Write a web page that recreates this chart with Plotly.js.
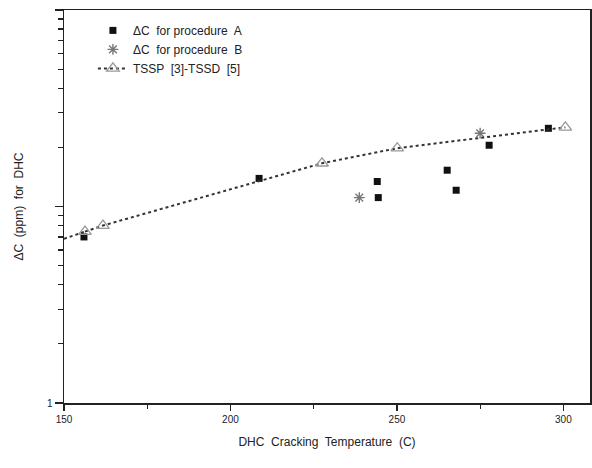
<!DOCTYPE html>
<html>
<head>
<meta charset="utf-8">
<script src="https://cdn.plot.ly/plotly-3.0.1.min.js"></script>
<style>html,body{margin:0;padding:0;background:#fff;}#chart{width:592px;height:468px;}</style>
</head>
<body>
<div id="chart"></div>
<script>
// Procedure A (squares)
const procA_T = [156, 208.6, 244.1, 244.4, 265.1, 267.8, 277.7, 295.5];
const procA_C = [7.0, 13.9, 13.4, 11.1, 15.3, 12.1, 20.5, 25.0];
// Procedure B (asterisks)
const procB_T = [238.7, 275];
const procB_C = [11.1, 23.6];
// TSSP-TSSD curve (triangles)
const tssp_T = [156.3, 161.7, 227.5, 250.1, 300.6];
const tssp_C = [7.45, 8.0, 16.6, 19.8, 25.3];
// extension of the dotted curve to the left axis
const ext_T = [150, 156.3];
const ext_C = [6.85, 7.45];

const yMajorVals = [1, 10, 100];
const yMajorText = ['1', '', ''];
const yMinorVals = [2,3,4,5,6,7,8,9,20,30,40,50,60,70,80,90];
const xMajorVals = [150, 200, 250, 300];
const xMinorVals = [175, 225, 275];

const font = {family: 'Liberation Sans, Arial, sans-serif', color: '#222'};

const traces = [
  {x: ext_T, y: ext_C, mode: 'lines', showlegend: false, hoverinfo: 'skip',
   line: {color: '#333', width: 2, dash: 'dot'}},
  {x: procA_T, y: procA_C, mode: 'markers', name: '\u0394C  for procedure  A',
   marker: {symbol: 'square', size: 7, color: '#111'}},
  {x: procB_T, y: procB_C, mode: 'markers', name: '\u0394C  for procedure  B',
   marker: {symbol: 'asterisk-open', size: 9, color: '#777', line: {color: '#777', width: 1.4}}},
  {x: tssp_T, y: tssp_C, mode: 'lines+markers', name: 'TSSP  [3]-TSSD  [5]',
   line: {color: '#333', width: 2, dash: 'dot'},
   marker: {symbol: 'triangle-up-open', size: 11, color: '#999', line: {color: '#999', width: 1.3}}}
];

const layout = {
  width: 592, height: 468,
  margin: {l: 64, r: 2, t: 10, b: 65},
  paper_bgcolor: '#fff', plot_bgcolor: '#fff',
  font: font,
  showlegend: true,
  legend: {x: 0.055, y: 0.985, xanchor: 'left', yanchor: 'top',
           bgcolor: 'rgba(0,0,0,0)', font: {family: font.family, size: 12, color: '#222'},
           tracegroupgap: 0},
  xaxis: {
    range: [150, 308], showgrid: false, zeroline: false,
    showline: true, linecolor: '#222', linewidth: 1.5, mirror: true,
    ticks: 'outside', ticklen: 6, tickcolor: '#222', tickwidth: 1.2,
    tickvals: xMajorVals,
    minor: {tickvals: xMinorVals, ticks: 'outside', ticklen: 4, tickcolor: '#222'},
    tickfont: {family: font.family, size: 10, color: '#222'},
    title: {text: 'DHC  Cracking  Temperature  (C)', font: {family: font.family, size: 12, color: '#222'}, standoff: 14}
  },
  yaxis: {
    type: 'log', range: [0, 2], showgrid: false, zeroline: false,
    showline: true, linecolor: '#222', linewidth: 1.5, mirror: true,
    ticks: 'outside', ticklen: 8, tickcolor: '#222', tickwidth: 1.2,
    tickvals: yMajorVals, ticktext: yMajorText,
    minor: {tickvals: yMinorVals, ticks: 'outside', ticklen: 5, tickcolor: '#222', tickwidth: 1.2},
    tickfont: {family: font.family, size: 10, color: '#222'},
    title: {text: '\u0394C  (ppm)  for  DHC', font: {family: font.family, size: 12, color: '#222'}, standoff: 20}
  }
};

Plotly.newPlot('chart', traces, layout, {displayModeBar: false, staticPlot: true});
</script>
</body>
</html>
